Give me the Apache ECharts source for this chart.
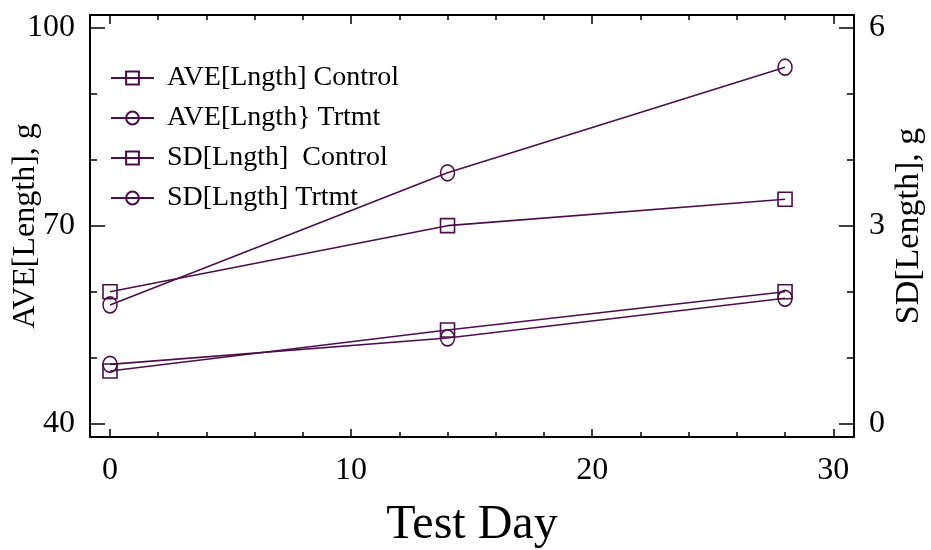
<!DOCTYPE html>
<html>
<head>
<meta charset="utf-8">
<script src="https://cdn.jsdelivr.net/npm/echarts@6/dist/echarts.min.js"></script>
<style>
  html, body { margin: 0; padding: 0; background: #fff; }
  #chart { width: 931px; height: 550px; }
</style>
</head>
<body>
<div id="chart"></div>
<script>
// data
const days = [0, 14, 28];
const aveControl = [60, 70, 74];
const aveTrtmt = [58, 78, 94];
const sdControl = [0.8, 1.42, 2.0];
const sdTrtmt = [0.9, 1.3, 1.9];

const seriesNames = ['AVE[Lngth] Control', 'AVE[Lngth} Trtmt', 'SD[Lngth]  Control', 'SD[Lngth] Trtmt'];

const xMajor = [0, 10, 20, 30];
const xMinor = [2, 4, 6, 8, 12, 14, 16, 18, 22, 24, 26, 28];
const leftMajor = [40, 70, 100];
const leftMinor = [50, 60, 80, 90];
const rightMajor = [0, 3, 6];
const rightMinor = [1, 2, 4, 5];

const purple = '#4a0f4a';
const font = '"Liberation Serif", "DejaVu Serif", serif';

const X_MIN = -0.83, X_MAX = 30.86;
const Y_MIN = 38.0, Y_MAX = 101.9;
const R_MIN = (Y_MIN - 40) / 10, R_MAX = (Y_MAX - 40) / 10;

function pairs(xs, ys) {
    return xs.map((x, i) => [x, ys[i]]);
}

function tickAxis(pos, min, max, values, len, showLine) {
    return {
        type: 'value',
        position: pos,
        min: min,
        max: max,
        splitLine: { show: false },
        axisLine: { show: showLine, onZero: false, lineStyle: { color: '#000', width: 2 } },
        axisTick: { show: true, inside: true, length: len, customValues: values, lineStyle: { color: '#000', width: 1.5 } },
        axisLabel: { show: false }
    };
}

function makeSeries(name, data, symbol, size, yIdx) {
    return {
        name: name,
        type: 'line',
        xAxisIndex: 0,
        yAxisIndex: yIdx,
        data: data,
        symbol: symbol,
        symbolSize: size,
        color: purple,
        lineStyle: { color: purple, width: 1.6 },
        itemStyle: { color: 'rgba(0,0,0,0)', borderColor: purple, borderWidth: 1.6 },
        emphasis: { disabled: true },
        clip: false,
        z: 5
    };
}

const chart = echarts.init(document.getElementById('chart'));

const bottomAxis = tickAxis('bottom', X_MIN, X_MAX, xMajor, 8, true);
bottomAxis.axisLabel = {
    show: true, customValues: xMajor, margin: 18,
    color: '#000', fontFamily: font, fontSize: 32
};
bottomAxis.name = 'Test Day';
bottomAxis.nameLocation = 'middle';
bottomAxis.nameGap = 64;
bottomAxis.nameMoveOverlap = false;
bottomAxis.nameTextStyle = { color: '#000', fontFamily: font, fontSize: 48 };

const leftAxis = tickAxis('left', Y_MIN, Y_MAX, leftMajor, 15, true);
leftAxis.axisLabel = {
    show: true, customValues: leftMajor, margin: 15,
    color: '#000', fontFamily: font, fontSize: 32
};
leftAxis.name = 'AVE[Length], g';
leftAxis.nameLocation = 'middle';
leftAxis.nameRotate = 90;
leftAxis.nameGap = 48;
leftAxis.nameMoveOverlap = false;
leftAxis.nameTextStyle = { color: '#000', fontFamily: font, fontSize: 32 };

const rightAxis = tickAxis('right', R_MIN, R_MAX, rightMajor, 15, true);
rightAxis.axisLabel = {
    show: true, customValues: rightMajor, margin: 15,
    color: '#000', fontFamily: font, fontSize: 32
};
rightAxis.name = 'SD[Length], g';
rightAxis.nameLocation = 'middle';
rightAxis.nameRotate = 90;
rightAxis.nameGap = 38;
rightAxis.nameMoveOverlap = false;
rightAxis.nameTextStyle = { color: '#000', fontFamily: font, fontSize: 34 };

const option = {
    animation: false,
    backgroundColor: '#fff',
    grid: { left: 90, right: 77, top: 15, bottom: 113, containLabel: false, outerBoundsMode: 'none' },
    legend: {
        data: seriesNames,
        orient: 'vertical',
        left: 110,
        top: 63,
        padding: 0,
        itemWidth: 43,
        itemHeight: 16,
        itemGap: 10,
        textStyle: { color: '#000', fontFamily: font, fontSize: 28, lineHeight: 30, padding: [0, 0, 0, 8] }
    },
    xAxis: [
        bottomAxis,
        tickAxis('bottom', X_MIN, X_MAX, xMinor, 5, false),
        tickAxis('top', X_MIN, X_MAX, xMajor, 9, true),
        tickAxis('top', X_MIN, X_MAX, xMinor, 5, false)
    ],
    yAxis: [
        leftAxis,
        tickAxis('left', Y_MIN, Y_MAX, leftMinor, 7, false),
        rightAxis,
        tickAxis('right', R_MIN, R_MAX, rightMinor, 7, false)
    ],
    series: [
        makeSeries(seriesNames[0], pairs(days, aveControl), 'rect', 14, 0),
        makeSeries(seriesNames[1], pairs(days, aveTrtmt), 'circle', [14, 16], 0),
        makeSeries(seriesNames[2], pairs(days, sdControl), 'rect', 14, 2),
        makeSeries(seriesNames[3], pairs(days, sdTrtmt), 'circle', [14, 16], 2)
    ]
};

chart.setOption(option);
</script>
</body>
</html>
